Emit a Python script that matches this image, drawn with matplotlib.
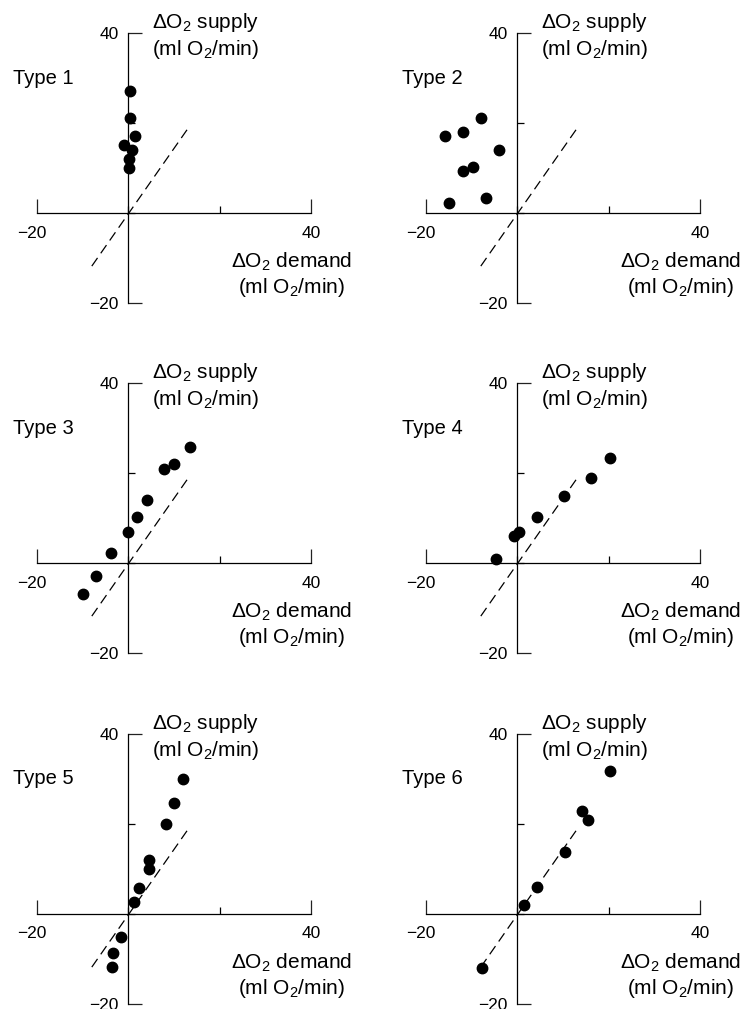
import matplotlib
matplotlib.use("Agg")
import matplotlib.pyplot as plt
import matplotlib.transforms as mtransforms

plt.rcParams["font.family"] = ["Liberation Sans", "DejaVu Sans"]
plt.rcParams["mathtext.default"] = "regular"

# values (demand, supply in ml O2/min)
type1_demand = [0.3, 0.3, 1.5, -1.0, 0.9, 0.2, 0.2]
type1_supply = [27.0, 21.1, 17.2, 15.0, 14.1, 12.0, 10.1]

type2_demand = [-15.9, -12.0, -8.0, -4.0, -12.0, -9.8, -14.9, -6.9]
type2_supply = [17.2, 18.1, 21.2, 14.1, 9.3, 10.3, 2.2, 3.3]

type3_demand = [13.4, 10.0, 7.9, 4.0, 1.9, 0.0, -3.8, -7.0, -10.0]
type3_supply = [25.8, 22.1, 21.0, 14.1, 10.2, 7.0, 2.2, -2.9, -6.9]

type4_demand = [20.3, 16.1, 10.3, 4.3, 0.4, -0.7, -4.6]
type4_supply = [23.3, 19.0, 15.0, 10.2, 7.0, 5.9, 1.0]

type5_demand = [12.0, 10.0, 8.2, 4.5, 4.5, 2.3, 1.2, -1.5, -3.3, -3.6]
type5_supply = [29.9, 24.7, 19.9, 11.9, 10.0, 5.7, 2.6, -5.0, -8.7, -11.7]

type6_demand = [20.4, 14.2, 15.4, 10.4, 4.3, 1.5, -7.7]
type6_supply = [31.7, 22.8, 20.8, 13.7, 6.0, 1.9, -12.0]

# dashed reference line end points
ref_demand = [-8.0, 13.2]
ref_supply = [-11.8, 19.0]

titles = ["Type 1", "Type 2", "Type 3", "Type 4", "Type 5", "Type 6"]
demands = [type1_demand, type2_demand, type3_demand, type4_demand, type5_demand, type6_demand]
supplies = [type1_supply, type2_supply, type3_supply, type4_supply, type5_supply, type6_supply]

W, H = 746, 1009
fig = plt.figure(figsize=(W / 100, H / 100), dpi=100)

lefts = [37, 426]
tops = [33, 383, 734]
aw, ah = 274, 270

for i in range(6):
    row, col = divmod(i, 2)
    left = lefts[col]
    top = tops[row]
    ax = fig.add_axes([left / W, 1 - (top + ah) / H, aw / W, ah / H])
    ax.set_xlim(-20, 40)
    ax.set_ylim(-20, 40)
    ax.patch.set_visible(False)

    for s in ["top", "right"]:
        ax.spines[s].set_visible(False)
    ax.spines["left"].set_position(("data", 0))
    ax.spines["bottom"].set_position(("data", 0))
    ax.spines["left"].set_linewidth(0.9)
    ax.spines["bottom"].set_linewidth(0.9)

    ax.set_xticks([-20, 40])
    ax.set_xticklabels(["\u221220", "40"])
    ax.set_yticks([-20, 40])
    ax.set_yticklabels(["\u221220", "40"])
    ax.set_xticks([0, 20], minor=True)
    ax.set_yticks([0, 20], minor=True)
    ax.tick_params(which="major", direction="in", length=10, width=0.9,
                   labelsize=12.5, color="#222222")
    ax.tick_params(axis="x", which="major", pad=9)
    ax.tick_params(axis="y", which="major", pad=7)
    ax.tick_params(which="minor", direction="in", length=5, width=0.9)
    # the "-20" under the x axis sits a little left of its tick
    shift = mtransforms.ScaledTranslation(-5 / 100, 0, fig.dpi_scale_trans)
    lab = ax.get_xticklabels()[0]
    lab.set_transform(lab.get_transform() + shift)

    ax.plot(ref_demand, ref_supply, color="black", lw=0.9,
            dashes=(8, 4.5), zorder=2)
    ax.plot(demands[i], supplies[i], "o", color="black", ms=7.5, zorder=3)

    ax.text(-25.3, 30, titles[i], fontsize=14.5, ha="left", va="center")
    ax.text(17, 39.3, "\u0394O$_2$ supply\n(ml O$_2$/min)", fontsize=15,
            ha="center", va="center", multialignment="center", clip_on=False)
    ax.text(49, -13.8, "\u0394O$_2$ demand\n(ml O$_2$/min)", fontsize=15,
            ha="right", va="center", multialignment="center", clip_on=False)

fig.savefig("out.png", dpi=100)
